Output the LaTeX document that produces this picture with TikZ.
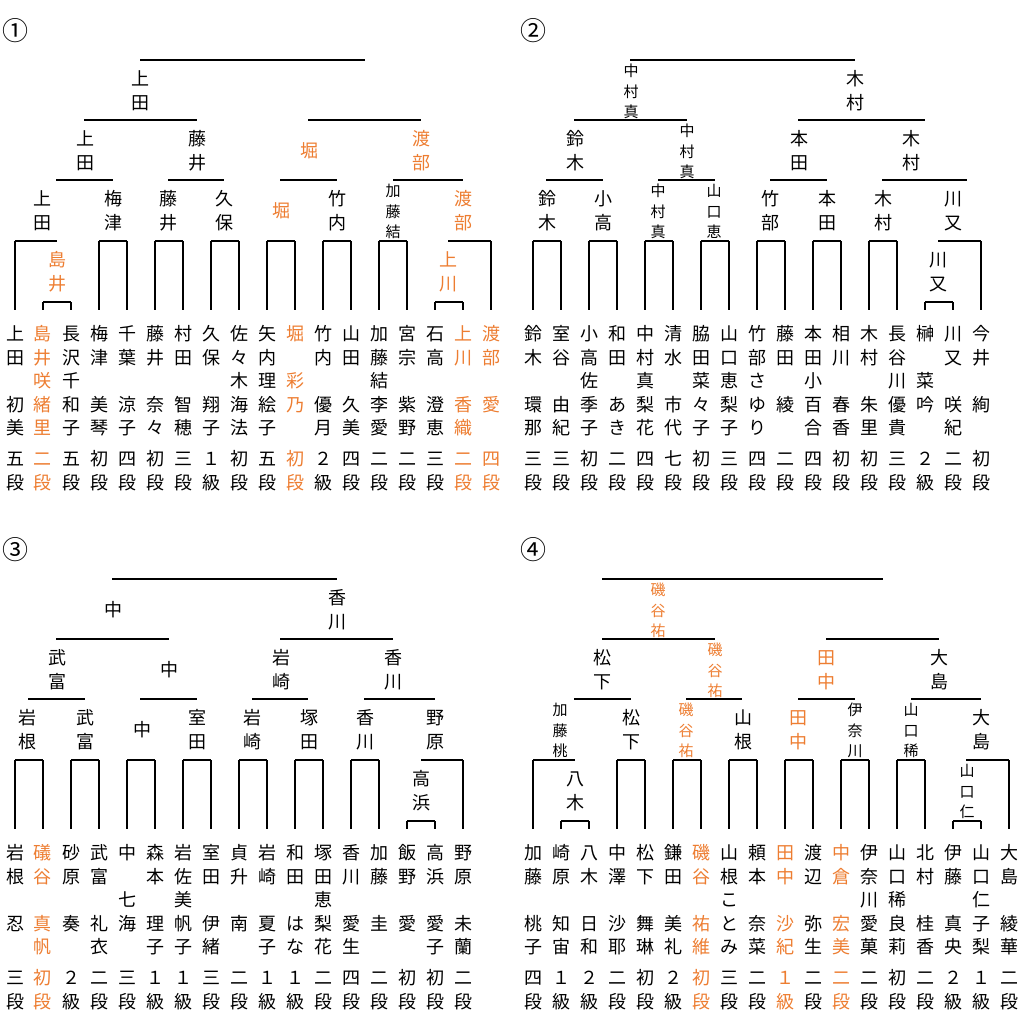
\documentclass[tikz,border=0pt]{standalone}
\usepackage{fontspec}
\setmainfont{Noto Sans CJK JP}
\definecolor{hlorange}{HTML}{ED7D31}
\newcommand\plfont{\fontsize{18}{23.5}\selectfont}
\newcommand\smfont{\fontsize{15}{20.5}\selectfont}
\newcommand\vt[1]{\begin{tabular}{@{}c@{}}#1\end{tabular}}
\tikzset{
  pl/.style={inner sep=0pt, anchor=north, font=\plfont},
  win/.style={inner sep=0pt, font=\plfont},
  wsm/.style={inner sep=0pt, font=\smfont},
  bar/.style={line width=1.2pt},
  num/.style={inner sep=0pt, font=\fontsize{26}{26}\selectfont}
}
\begin{document}
\begin{tikzpicture}[x=1pt,y=-1pt]
  \useasboundingbox (0,0) rectangle (1023,1017);

  % bracket 1
  \begin{scope}
    \node[num] (An) at (15,31) {①};
    \foreach \k/\nm/\rk/\c in {0/{上\\田\\\\初\\美}/{五\\段}/black,
      1/{島\\井\\咲\\緒\\里}/{二\\段}/hlorange, 2/{長\\沢\\千\\和\\子}/{五\\段}/black,
      3/{梅\\津\\\\美\\琴}/{初\\段}/black, 4/{千\\葉\\\\涼\\子}/{四\\段}/black,
      5/{藤\\井\\\\奈\\々}/{初\\段}/black, 6/{村\\田\\\\智\\穂}/{三\\段}/black,
      7/{久\\保\\\\翔\\子}/{１\\級}/black, 8/{佐\\々\\木\\海\\法}/{初\\段}/black,
      9/{矢\\内\\理\\絵\\子}/{五\\段}/black, 10/{堀\\\\彩\\乃}/{初\\段}/hlorange,
      11/{竹\\内\\\\優\\月}/{２\\級}/black, 12/{山\\田\\\\久\\美}/{四\\段}/black,
      13/{加\\藤\\結\\李\\愛}/{二\\段}/black, 14/{宮\\宗\\\\紫\\野}/{二\\段}/black,
      15/{石\\高\\\\澄\\恵}/{三\\段}/black, 16/{上\\川\\\\香\\織}/{二\\段}/hlorange,
      17/{渡\\部\\\\愛}/{四\\段}/hlorange}{
      \node[pl,text=\c] (A\k) at (15+28*\k,324) {\vt{\nm}};
      \node[pl,text=\c] (Ar\k) at (15+28*\k,449) {\vt{\rk}};
    }
    \foreach \x/\y/\t/\c [count=\i] in {140/60/{上\\田}/black,
      85/120/{上\\田}/black, 197/120/{藤\\井}/black, 309/120/{堀}/hlorange,
      421/120/{渡\\部}/hlorange, 43/180/{上\\田}/black, 113/180/{梅\\津}/black,
      168/180/{藤\\井}/black, 224/180/{久\\保}/black, 281/180/{堀}/hlorange,
      337/180/{竹\\内}/black, 463/180/{渡\\部}/hlorange,
      57/241/{島\\井}/hlorange, 448/241/{上\\川}/hlorange}
      \node[win,text=\c] (Aw\i) at (\x,\y+33) {\vt{\t}};
    \node[wsm] (As1) at (393,213) {\vt{加\\藤\\結}};
    \foreach \y/\xa/\xb in {60/140/365, 120/84/197, 120/308/421,
      180/56/113, 180/168/224, 180/280/337, 180/393/463,
      241/15/57, 241/99/127, 241/155/183, 241/211/239, 241/267/295,
      241/323/351, 241/379/407, 241/448/491, 302/43/71, 302/435/463}
      \draw[bar] (\xa,\y) -- (\xb,\y);
    \foreach \k/\y in {0/241, 1/302, 2/302, 3/241, 4/241, 5/241, 6/241,
      7/241, 8/241, 9/241, 10/241, 11/241, 12/241, 13/241, 14/241,
      15/302, 16/302, 17/241}
      \draw[bar] (A\k |- 0,\y) -- (A\k |- 0,310);
  \end{scope}

  % bracket 2
  \begin{scope}[shift={(518,0)}]
    \node[num] (Bn) at (15,31) {②};
    \foreach \k/\nm/\rk in {0/{鈴\\木\\\\環\\那}/{三\\段},
      1/{室\\谷\\\\由\\紀}/{三\\段}, 2/{小\\高\\佐\\季\\子}/{初\\段},
      3/{和\\田\\\\あ\\き}/{二\\段}, 4/{中\\村\\真\\梨\\花}/{四\\段},
      5/{清\\水\\\\市\\代}/{七\\段}, 6/{脇\\田\\菜\\々\\子}/{初\\段},
      7/{山\\口\\恵\\梨\\子}/{三\\段}, 8/{竹\\部\\さ\\ゆ\\り}/{四\\段},
      9/{藤\\田\\\\綾}/{二\\段}, 10/{本\\田\\小\\百\\合}/{四\\段},
      11/{相\\川\\\\春\\香}/{初\\段}, 12/{木\\村\\\\朱\\里}/{初\\段},
      13/{長\\谷\\川\\優\\貴}/{三\\段}, 14/{榊\\\\菜\\吟}/{２\\級},
      15/{川\\又\\\\咲\\紀}/{二\\段}, 16/{今\\井\\\\絢}/{初\\段}}{
      \node[pl] (B\k) at (15+28*\k,324) {\vt{\nm}};
      \node[pl] (Br\k) at (15+28*\k,449) {\vt{\rk}};
    }
    \foreach \x/\y/\t [count=\i] in {337/60/{木\\村},
      57/120/{鈴\\木}, 281/120/{本\\田}, 393/120/{木\\村},
      29/180/{鈴\\木}, 85/180/{小\\高}, 252/180/{竹\\部}, 309/180/{本\\田},
      365/180/{木\\村}, 435/180/{川\\又}, 420/241/{川\\又}}
      \node[win] (Bw\i) at (\x,\y+33) {\vt{\t}};
    \foreach \x/\y/\t [count=\i] in {113/60/{中\\村\\真}, 169/120/{中\\村\\真},
      140/180/{中\\村\\真}, 196/180/{山\\口\\恵}}
      \node[wsm] (Bs\i) at (\x,\y+33) {\vt{\t}};
    \foreach \y/\xa/\xb in {60/112/337, 120/56/169, 120/280/407,
      180/28/85, 180/140/197, 180/252/309, 180/364/449,
      241/15/43, 241/71/99, 241/127/155, 241/183/211, 241/239/267,
      241/295/323, 241/351/379, 241/420/463, 302/407/435}
      \draw[bar] (\xa,\y) -- (\xb,\y);
    \foreach \k/\y in {0/241, 1/241, 2/241, 3/241, 4/241, 5/241, 6/241,
      7/241, 8/241, 9/241, 10/241, 11/241, 12/241, 13/241,
      14/302, 15/302, 16/241}
      \draw[bar] (B\k |- 0,\y) -- (B\k |- 0,310);
  \end{scope}

  % bracket 3
  \begin{scope}[shift={(0,519)}]
    \node[num] (Cn) at (15,31) {③};
    \foreach \k/\nm/\rk/\c in {0/{岩\\根\\\\忍}/{三\\段}/black,
      1/{礒\\谷\\\\真\\帆}/{初\\段}/hlorange, 2/{砂\\原\\\\奏}/{２\\級}/black,
      3/{武\\富\\\\礼\\衣}/{二\\段}/black, 4/{中\\\\七\\海}/{三\\段}/black,
      5/{森\\本\\\\理\\子}/{１\\級}/black, 6/{岩\\佐\\美\\帆\\子}/{１\\級}/black,
      7/{室\\田\\\\伊\\緒}/{三\\段}/black, 8/{貞\\升\\\\南}/{二\\段}/black,
      9/{岩\\崎\\\\夏\\子}/{１\\級}/black, 10/{和\\田\\\\は\\な}/{１\\級}/black,
      11/{塚\\田\\恵\\梨\\花}/{二\\段}/black, 12/{香\\川\\\\愛\\生}/{四\\段}/black,
      13/{加\\藤\\\\圭}/{二\\段}/black, 14/{飯\\野\\\\愛}/{初\\段}/black,
      15/{高\\浜\\\\愛\\子}/{初\\段}/black, 16/{野\\原\\\\未\\蘭}/{二\\段}/black}{
      \node[pl,text=\c] (C\k) at (15+28*\k,324) {\vt{\nm}};
      \node[pl,text=\c] (Cr\k) at (15+28*\k,449) {\vt{\rk}};
    }
    \foreach \x/\y/\t [count=\i] in {113/60/{中}, 337/60/{香\\川},
      57/120/{武\\富}, 169/120/{中}, 281/120/{岩\\崎}, 393/120/{香\\川},
      28/180/{岩\\根}, 85/180/{武\\富}, 142/180/{中}, 197/180/{室\\田},
      252/180/{岩\\崎}, 309/180/{塚\\田}, 365/180/{香\\川}, 435/180/{野\\原},
      421/241/{高\\浜}}
      \node[win] (Cw\i) at (\x,\y+33) {\vt{\t}};
    \foreach \y/\xa/\xb in {60/112/337, 120/56/169, 120/280/393,
      180/28/85, 180/140/197, 180/252/308, 180/364/435,
      241/15/43, 241/71/99, 241/127/155, 241/183/211, 241/239/267,
      241/295/323, 241/351/379, 241/421/463, 302/407/435}
      \draw[bar] (\xa,\y) -- (\xb,\y);
    \foreach \k/\y in {0/241, 1/241, 2/241, 3/241, 4/241, 5/241, 6/241,
      7/241, 8/241, 9/241, 10/241, 11/241, 12/241, 13/241,
      14/302, 15/302, 16/241}
      \draw[bar] (C\k |- 0,\y) -- (C\k |- 0,310);
  \end{scope}

  % bracket 4
  \begin{scope}[shift={(518,519)}]
    \node[num] (Dn) at (15,31) {④};
    \foreach \k/\nm/\rk/\c in {0/{加\\藤\\\\桃\\子}/{四\\段}/black,
      1/{崎\\原\\\\知\\宙}/{１\\級}/black, 2/{八\\木\\\\日\\和}/{２\\級}/black,
      3/{中\\澤\\\\沙\\耶}/{二\\段}/black, 4/{松\\下\\\\舞\\琳}/{初\\段}/black,
      5/{鎌\\田\\\\美\\礼}/{２\\級}/black, 6/{磯\\谷\\\\祐\\維}/{初\\段}/hlorange,
      7/{山\\根\\こ\\と\\み}/{三\\段}/black, 8/{頼\\本\\\\奈\\菜}/{二\\段}/black,
      9/{田\\中\\\\沙\\紀}/{１\\級}/hlorange, 10/{渡\\辺\\\\弥\\生}/{二\\段}/black,
      11/{中\\倉\\\\宏\\美}/{二\\段}/hlorange, 12/{伊\\奈\\川\\愛\\菓}/{二\\段}/black,
      13/{山\\口\\稀\\良\\莉}/{初\\段}/black, 14/{北\\村\\\\桂\\香}/{二\\段}/black,
      15/{伊\\藤\\\\真\\央}/{２\\級}/black, 16/{山\\口\\仁\\子\\梨}/{１\\級}/black,
      17/{大\\島\\\\綾\\華}/{二\\段}/black}{
      \node[pl,text=\c] (D\k) at (15+28*\k,324) {\vt{\nm}};
      \node[pl,text=\c] (Dr\k) at (15+28*\k,449) {\vt{\rk}};
    }
    \foreach \x/\y/\t/\c [count=\i] in {84/120/{松\\下}/black,
      308/120/{田\\中}/hlorange, 421/120/{大\\島}/black,
      113/180/{松\\下}/black, 225/180/{山\\根}/black, 280/180/{田\\中}/hlorange,
      463/180/{大\\島}/black, 57/241/{八\\木}/black}
      \node[win,text=\c] (Dw\i) at (\x,\y+33) {\vt{\t}};
    \foreach \x/\y/\t/\c [count=\i] in {140/60/{磯\\谷\\祐}/hlorange,
      197/120/{磯\\谷\\祐}/hlorange, 42/180/{加\\藤\\桃}/black,
      168/180/{磯\\谷\\祐}/hlorange, 337/180/{伊\\奈\\川}/black,
      393/180/{山\\口\\稀}/black, 449/241/{山\\口\\仁}/black}
      \node[wsm,text=\c] (Ds\i) at (\x,\y+33) {\vt{\t}};
    \foreach \y/\xa/\xb in {60/84/365, 120/84/197, 120/308/421,
      180/56/113, 180/168/224, 180/280/337, 180/393/463,
      241/15/57, 241/99/127, 241/155/183, 241/211/239, 241/267/295,
      241/323/351, 241/379/407, 241/448/491, 302/43/71, 302/435/463}
      \draw[bar] (\xa,\y) -- (\xb,\y);
    \foreach \k/\y in {0/241, 1/302, 2/302, 3/241, 4/241, 5/241, 6/241,
      7/241, 8/241, 9/241, 10/241, 11/241, 12/241, 13/241, 14/241,
      15/302, 16/302, 17/241}
      \draw[bar] (D\k |- 0,\y) -- (D\k |- 0,310);
  \end{scope}
\end{tikzpicture}
\end{document}
